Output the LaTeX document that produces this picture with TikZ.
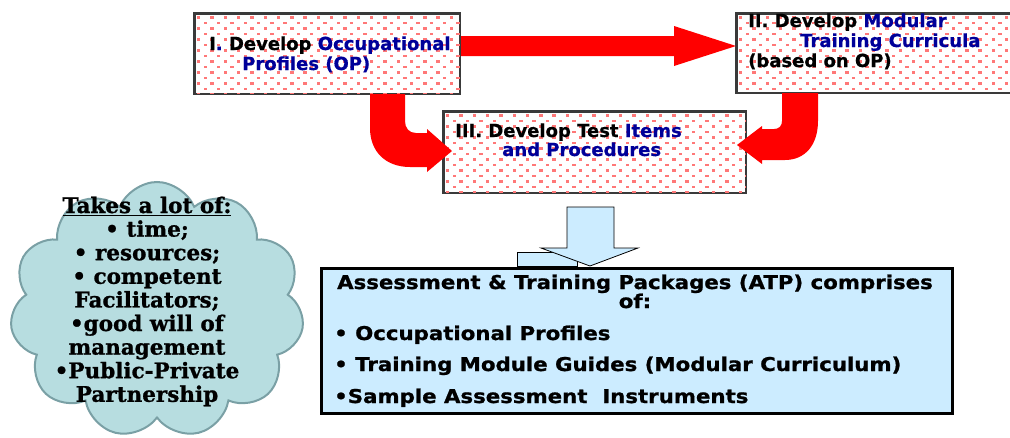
\documentclass[tikz,border=0pt]{standalone}
\usepackage{fontspec}
\usetikzlibrary{shapes.symbols,calc}
\newfontfamily\boxfont[FakeBold=0.6]{DejaVu Sans}
\newfontfamily\atpfont[FakeStretch=1.12,FakeBold=1]{DejaVu Sans}
\newfontfamily\cloudfont[FakeBold=1]{DejaVu Serif}

\definecolor{arrowred}{HTML}{FF0000}
\definecolor{dotpink}{HTML}{FF7878}
\definecolor{boxedge}{HTML}{3A3A3A}
\definecolor{txtblue}{HTML}{000099}
\definecolor{paleblue}{HTML}{CCECFF}
\definecolor{cloudfill}{HTML}{B7DDE0}
\definecolor{cloudedge}{HTML}{7AA0A5}

\newcommand\blu[1]{\textcolor{txtblue}{#1}}

% pink dotted fill clipped to a named box
\newcommand\dotpattern[1]{%
  \begin{scope}
    \clip (#1.south west) rectangle (#1.north east);
    \path (#1.north west) coordinate (dp0);
    \foreach \r in {0,...,15} {
      \foreach \c in {0,...,22} {
        \fill[dotpink] ($(dp0)+({3+mod(\r,2)*6.65+\c*13.3},{3+\r*5.5})$) rectangle ++(3.4,2.7);
      }
    }
  \end{scope}}

\tikzset{
  stagebox/.style={draw=boxedge, line width=1.5, fill=white, anchor=north west, inner sep=0},
  redarrow/.style={fill=arrowred},
  stagetxt/.style={anchor=base west, inner sep=0, font=\boxfont\bfseries\fontsize{18}{20}\selectfont},
  atptxt/.style={inner sep=0, font=\atpfont\bfseries\fontsize{19}{22}\selectfont},
  cloudtxt/.style={anchor=base, inner sep=0, font=\cloudfont\bfseries\fontsize{21.5}{23}\selectfont},
  bluearrow/.style={fill=paleblue, draw=black, line width=0.8},
}

\begin{document}
\begin{tikzpicture}[x=1pt, y=-1pt]
  \useasboundingbox (0,0) rectangle (1010,437);
  \fill[white] (0,0) rectangle (1010,437);

  % the three development stages
  \node[stagebox, minimum width=265, minimum height=80] (occ) at (194,13) {};
  \dotpattern{occ}
  \draw[boxedge, line width=1.5] (occ.south west) rectangle (occ.north east);

  \node[stagebox, minimum width=278, minimum height=79] (mod) at (736,13) {};
  \dotpattern{mod}
  \draw[boxedge, line width=1.5] (mod.south west) rectangle (mod.north east);

  \node[stagebox, minimum width=302, minimum height=81] (tst) at (443,111) {};
  \dotpattern{tst}
  \draw[boxedge, line width=1.5] (tst.south west) rectangle (tst.north east);

  % red block arrows between the stages
  \fill[redarrow] (461,36) -- (674,36) -- (674,26) -- (736,46) -- (674,66) -- (674,56) -- (461,56) -- cycle;
  \fill[redarrow] (370,94) -- (370,128) .. controls (370,152) and (386,167) .. (410,167)
     -- (427,167) -- (427,172) -- (452,151) -- (427,129) -- (427,133) -- (416,133)
     .. controls (409,133) and (405,128) .. (405,121) -- (405,94) -- cycle;
  \fill[redarrow] (782,93) -- (818,93) -- (818,121) .. controls (818,145) and (805,160) .. (785,160)
     -- (762,160) -- (762,164) -- (737,145) -- (762,126) -- (762,129) -- (774,129)
     .. controls (779,129) and (782,126) .. (782,121) -- cycle;

  % stage labels
  \node[stagetxt] (occ1) at (209,50) {I\blu{.} Develop \blu{Occupational}};
  \node[stagetxt] (occ2) at (242,70) {\blu{Profiles (OP)}};
  \node[stagetxt] (mod1) at (748,27) {II. Develop \blu{Modular}};
  \node[stagetxt] (mod2) at (800,47) {\blu{Training Curricula}};
  \node[stagetxt] (mod3) at (748,67) {(based on OP)};
  \node[stagetxt] (tst1) at (455,137) {III. Develop Test \blu{Items}};
  \node[stagetxt] (tst2) at (502,156) {\blu{and Procedures}};

  % down arrow to the package box
  \filldraw[bluearrow] (517,252) rectangle (577,266);
  \filldraw[bluearrow] (567,207) -- (614,207) -- (614,248) -- (638,248) -- (590,266)
     -- (541,248) -- (567,248) -- cycle;

  % package box
  \node[draw=black, line width=2.5, fill=paleblue, anchor=north west, inner sep=0,
        minimum width=631, minimum height=145] (atp) at (320,267) {};
  \node[atptxt, anchor=base] (atp1) at (635,289) {Assessment \& Training Packages (ATP) comprises};
  \node[atptxt, anchor=base] (atp2) at (635,308) {of:};
  \node[atptxt, anchor=base west] (atp3) at (334,340) {• Occupational Profiles};
  \node[atptxt, anchor=base west] (atp4) at (334,371) {• Training Module Guides (Modular Curriculum)};
  \node[atptxt, anchor=base west] (atp5) at (334,403) {•Sample Assessment\ \ Instruments};

  % cloud with requirements
  \node[cloud, cloud puffs=11, cloud puff arc=135, cloud ignores aspect, draw=cloudedge, fill=cloudfill,
        line width=2, minimum width=294, minimum height=256, inner sep=0] (cld) at (157,310) {};
  \foreach \t [count=\i] in {{\underline{Takes a lot of:}}, • time;, • resources;, • competent,
      Facilitators;, •good will of, management, •Public-Private, Partnership}
    \node[cloudtxt] (cl\i) at (147,{213+(\i-1)*23.6}) {\t};
\end{tikzpicture}
\end{document}
